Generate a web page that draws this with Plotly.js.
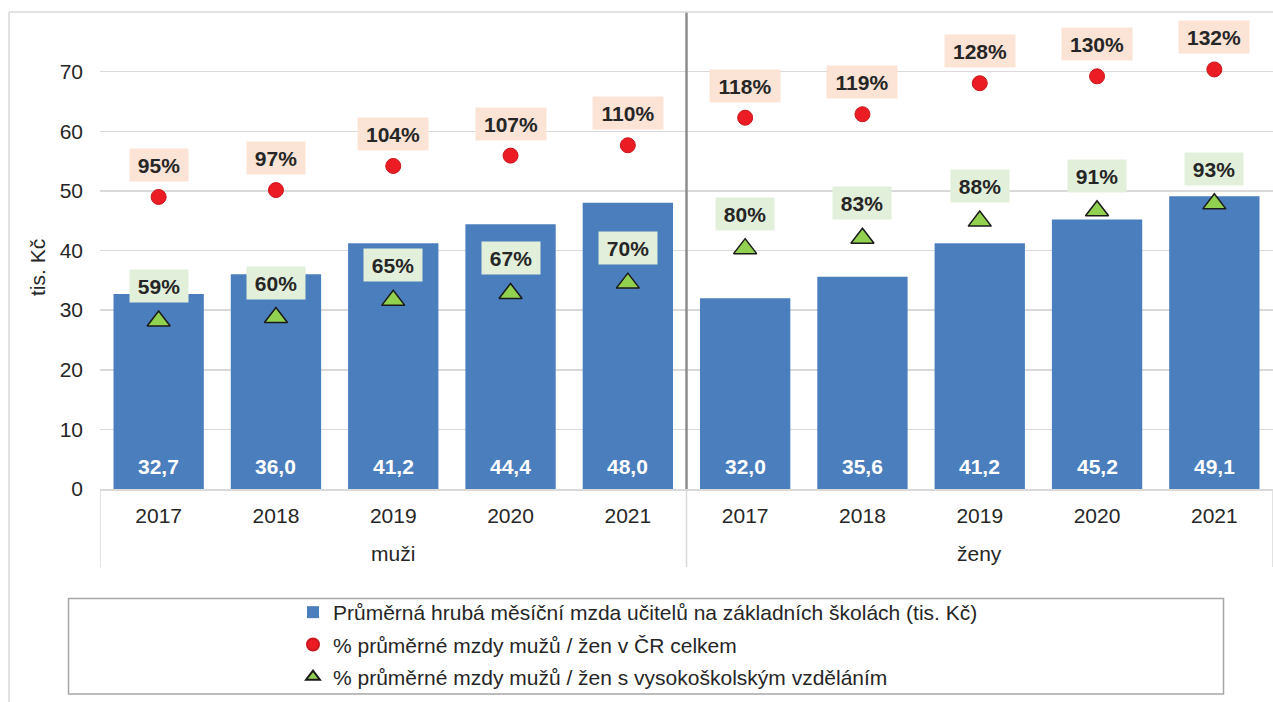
<!DOCTYPE html>
<html>
<head>
<meta charset="utf-8">
<script src="https://cdn.plot.ly/plotly-3.0.1.min.js"></script>
<style>
  html, body { margin: 0; padding: 0; background: #ffffff; }
  #chart { width: 1273px; height: 702px; }
</style>
</head>
<body>
<div id="chart"></div>
<script>
// ---- data ----
const groups = ['muži', 'ženy'];
const years = ['2017', '2018', '2019', '2020', '2021'];
const salaryMen = [32.7, 36.0, 41.2, 44.4, 48.0];
const salaryWomen = [32.0, 35.6, 41.2, 45.2, 49.1];
const pctTotalMen = [95, 97, 104, 107, 110];
const pctTotalWomen = [118, 119, 128, 130, 132];
const pctUniMen = [59, 60, 65, 67, 70];
const pctUniWomen = [80, 83, 88, 91, 93];
const legendNames = [
  'Průměrná hrubá měsíční mzda učitelů na základních školách (tis. Kč)',
  '% průměrné mzdy mužů / žen v ČR celkem',
  '% průměrné mzdy mužů / žen s vysokoškolským vzděláním'
];
const yTicks = [0, 10, 20, 30, 40, 50, 60, 70];

// ---- derived ----
const salary = salaryMen.concat(salaryWomen);
const pctTotal = pctTotalMen.concat(pctTotalWomen);
const pctUni = pctUniMen.concat(pctUniWomen);
const yearLabels = years.concat(years);
const xs = yearLabels.map((_, i) => i);

const FONT = 'Liberation Sans, Arial, Helvetica, sans-serif';
const TXT = '#262626';
const GRID = '#d9d9d9';

// plot geometry helpers (pixels -> paper)
const W = 1273, H = 702, ML = 100, MR = 0, MT = 12, MB = 213;
const PW = W - ML - MR, PH = H - MT - MB;
const px = X => (X - ML) / PW;
const py = Y => (H - MB - Y) / PH;

const traces = [
  {
    type: 'bar', x: xs, y: salary, width: 0.77,
    name: legendNames[0],
    marker: { color: '#4a7ebd', line: { width: 0 } },
    legendgroup: 'a', hoverinfo: 'skip'
  },
  {
    type: 'scatter', mode: 'markers', x: xs, y: pctTotal, yaxis: 'y2',
    name: legendNames[1],
    marker: { symbol: 'circle', size: 15, color: '#ec1c24', line: { color: '#c8161d', width: 1 } },
    legendgroup: 'b', hoverinfo: 'skip'
  },
  {
    type: 'scatter', mode: 'markers', x: xs, y: pctUni, yaxis: 'y2',
    name: legendNames[2],
    marker: { symbol: 'triangle-up', size: 20, color: '#92d050', line: { color: '#1a1a1a', width: 1.5 } },
    legendgroup: 'c', hoverinfo: 'skip'
  }
];

const labelW = s => Math.round(s.length * 11.7 + 7 + 8);
const annotations = [];
// bar values
salary.forEach((v, i) => {
  annotations.push({
    x: xs[i], y: 0, xref: 'x', yref: 'y', yshift: 23, showarrow: false,
    text: v.toFixed(1).replace('.', ','),
    font: { family: FONT, size: 21, color: '#ffffff', weight: 'bold' }
  });
});
// percentage labels
pctTotal.forEach((v, i) => {
  const t = v + '%';
  annotations.push({
    x: xs[i], y: v, xref: 'x', yref: 'y2', yshift: 32, showarrow: false,
    text: '<b>' + t + '</b>', bgcolor: '#fbe3d6', borderpad: 4,
    width: labelW(t), height: 24,
    font: { family: FONT, size: 21, color: TXT }
  });
});
pctUni.forEach((v, i) => {
  const t = v + '%';
  annotations.push({
    x: xs[i], y: v, xref: 'x', yref: 'y2', yshift: 35, showarrow: false,
    text: '<b>' + t + '</b>', bgcolor: '#e2efda', borderpad: 4,
    width: labelW(t), height: 24,
    font: { family: FONT, size: 21, color: TXT }
  });
});
// group labels
groups.forEach((g, k) => {
  annotations.push({
    x: k * years.length + (years.length - 1) / 2, y: py(553), xref: 'x', yref: 'paper',
    showarrow: false, text: g, xanchor: 'center', yanchor: 'middle',
    font: { family: FONT, size: 21, color: TXT }
  });
});
// y axis title
annotations.push({
  x: px(37), y: py(268), xref: 'paper', yref: 'paper', showarrow: false,
  xanchor: 'center', yanchor: 'middle',
  text: 'tis. Kč', textangle: -90,
  font: { family: FONT, size: 21, color: TXT }
});

const shapes = [];
// group dividers below axis
for (let k = 0; k <= groups.length; k++) {
  shapes.push({
    type: 'line', xref: 'x', yref: 'paper',
    x0: k * years.length - 0.5, x1: k * years.length - 0.5,
    y0: 0, y1: py(567), line: { color: GRID, width: 1.5 }
  });
}
// strong separator inside plot
shapes.push({
  type: 'line', xref: 'x', yref: 'paper',
  x0: years.length - 0.5, x1: years.length - 0.5, y0: 0, y1: 1,
  line: { color: '#8c8c8c', width: 2.5 }
});
// outer chart frame (left and top)
shapes.push({
  type: 'line', xref: 'paper', yref: 'paper',
  x0: px(9), x1: px(9), y0: 1, y1: py(H + 2), line: { color: GRID, width: 1.5 }
});
shapes.push({
  type: 'line', xref: 'paper', yref: 'paper',
  x0: px(9), x1: px(W + 2), y0: 1, y1: 1, line: { color: GRID, width: 1.5 }
});
// legend box
shapes.push({
  type: 'rect', xref: 'paper', yref: 'paper',
  x0: px(68.5), x1: px(1223.5), y0: py(598.5), y1: py(694),
  line: { color: '#a6a6a6', width: 1.5 }, fillcolor: 'rgba(0,0,0,0)'
});

const layout = {
  width: W, height: H,
  margin: { l: ML, r: MR, t: MT, b: MB, autoexpand: false },
  paper_bgcolor: '#ffffff', plot_bgcolor: '#ffffff',
  font: { family: FONT, size: 21, color: TXT },
  showlegend: true,
  legend: {
    x: px(293), y: py(592), xanchor: 'left', yanchor: 'top',
    orientation: 'v', borderwidth: 0, bgcolor: 'rgba(0,0,0,0)',
    font: { family: FONT, size: 21, color: TXT },
    itemsizing: 'constant', tracegroupgap: 2
  },
  xaxis: {
    type: 'linear', range: [-0.5, xs.length - 0.5],
    tickmode: 'array', tickvals: xs, ticktext: yearLabels,
    showgrid: false, zeroline: false, ticks: '',
    showline: true, linecolor: GRID, linewidth: 1.5,
    ticklabelstandoff: 7,
    tickfont: { family: FONT, size: 21, color: TXT }
  },
  yaxis: {
    range: [0, 80], tickmode: 'array', tickvals: yTicks,
    showgrid: true, gridcolor: GRID, gridwidth: 1.5,
    zeroline: false, showline: false, ticks: '',
    ticklabelstandoff: 16,
    tickfont: { family: FONT, size: 21, color: TXT }
  },
  yaxis2: {
    overlaying: 'y', side: 'right', range: [10.26, 148.67],
    visible: false, showgrid: false, zeroline: false
  },
  bargap: 0.23,
  annotations: annotations,
  shapes: shapes
};

Plotly.newPlot('chart', traces, layout, { staticPlot: true, displayModeBar: false });
</script>
</body>
</html>
